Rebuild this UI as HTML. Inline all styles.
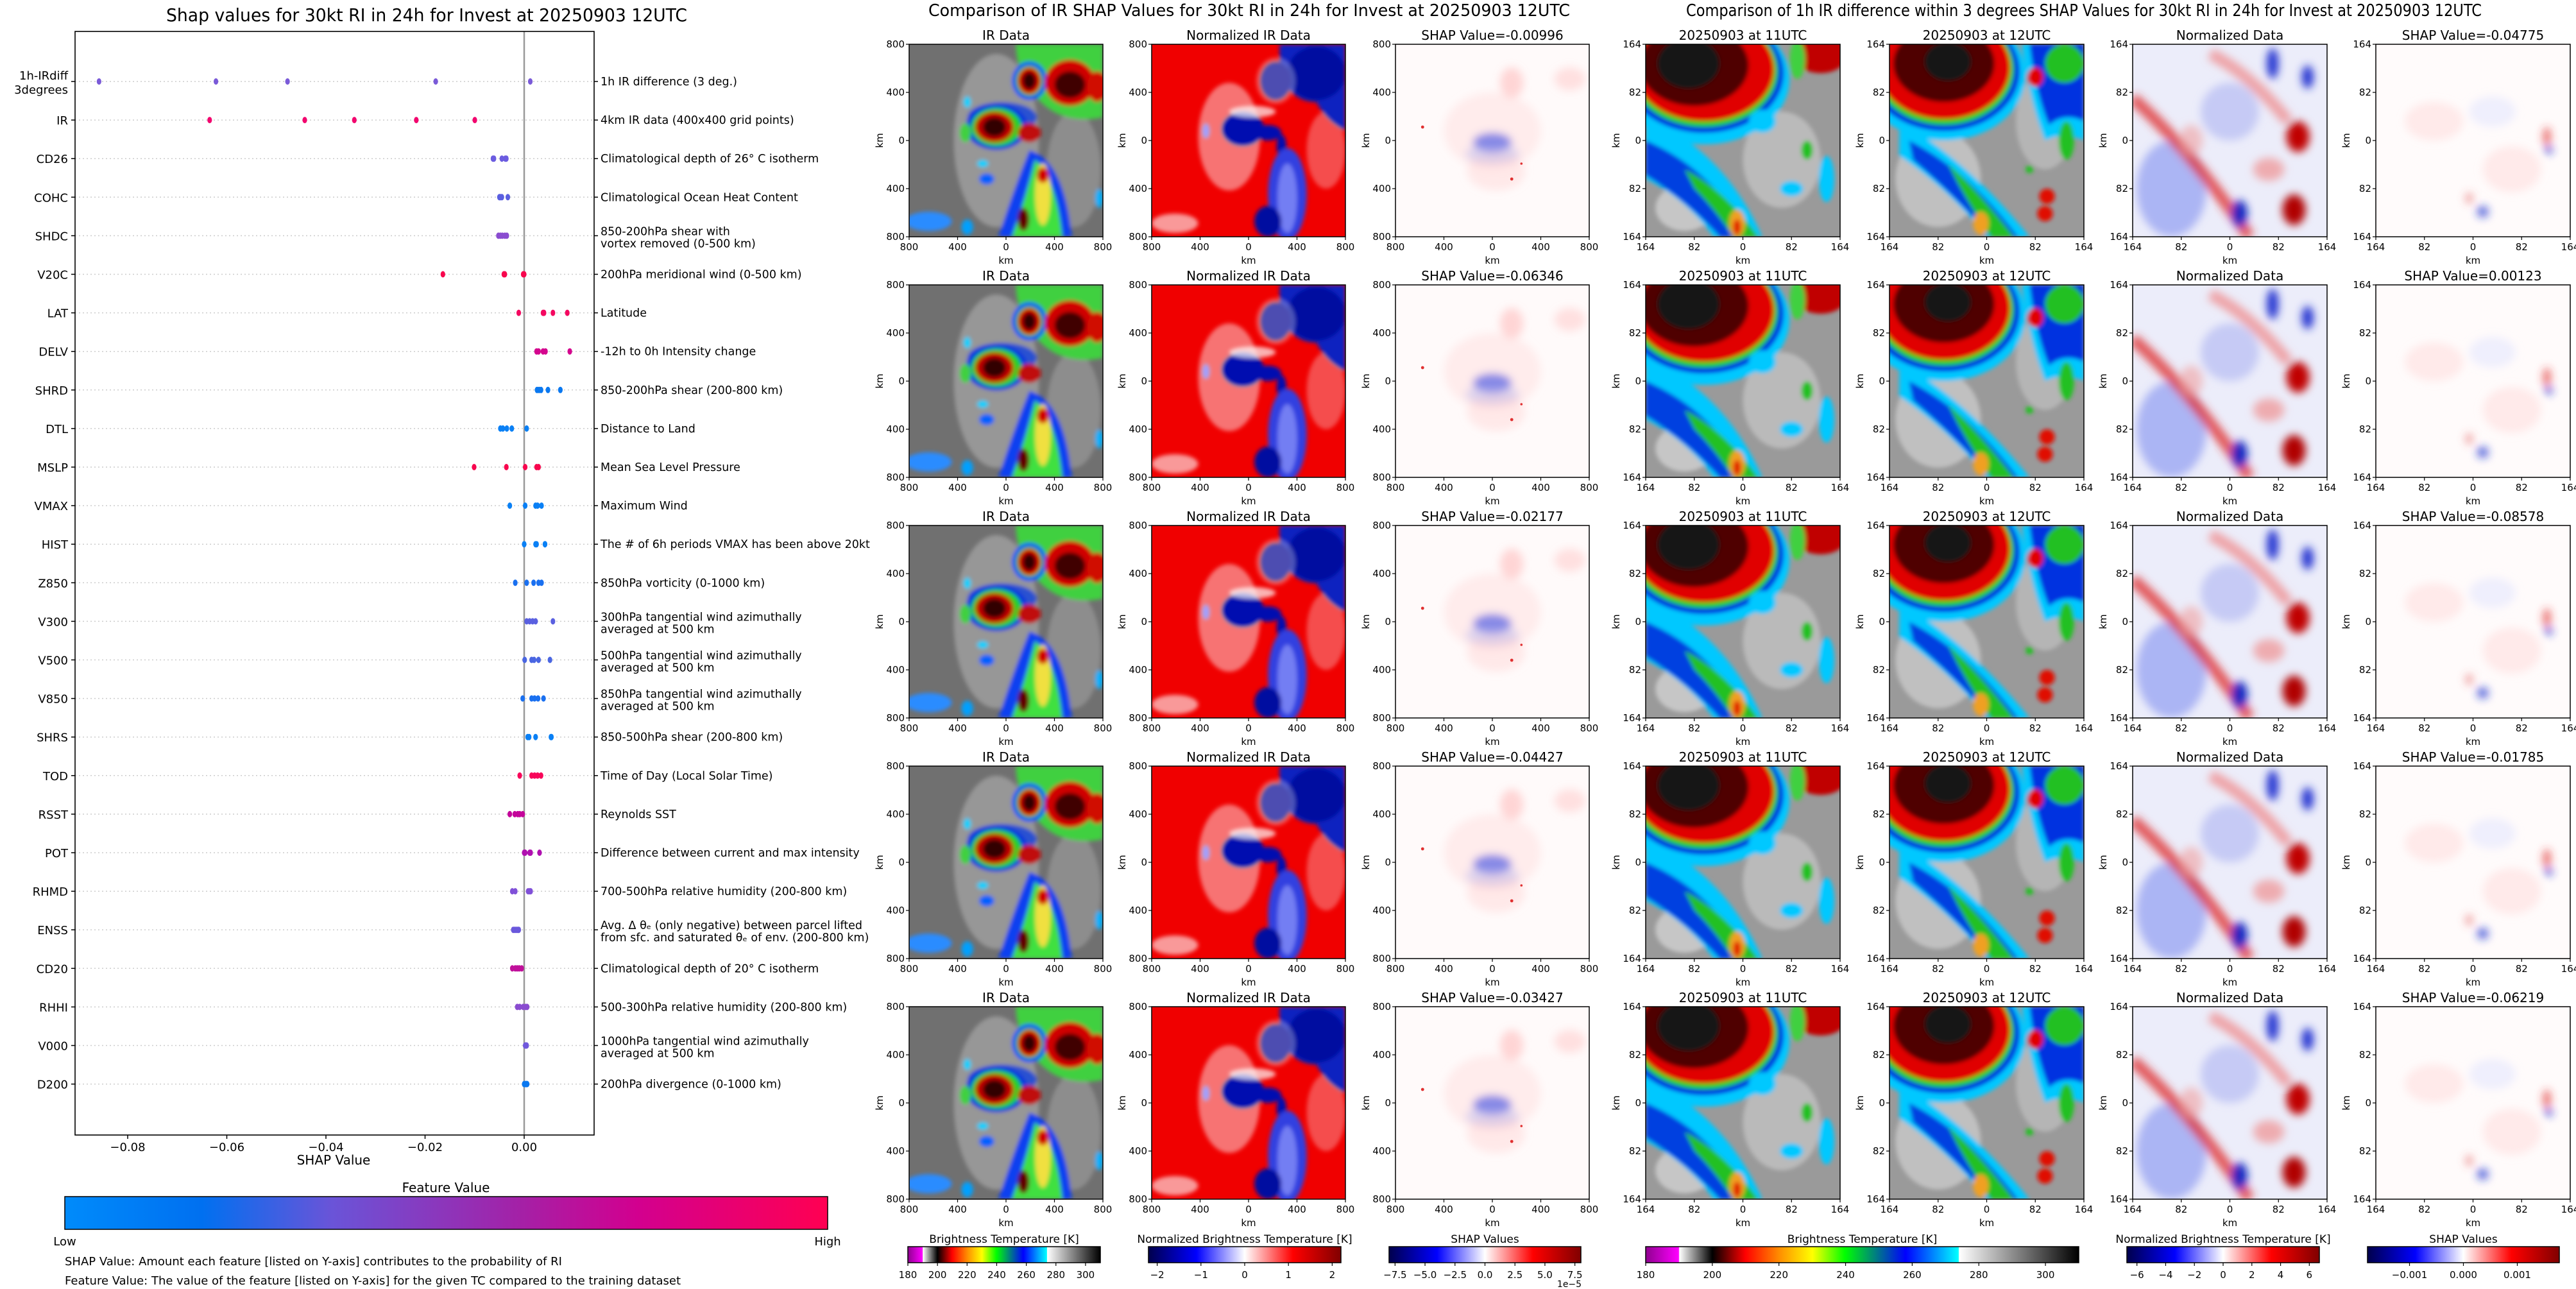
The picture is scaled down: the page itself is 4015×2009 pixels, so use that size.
<!DOCTYPE html>
<html><head><meta charset="utf-8">
<style>
html,body{margin:0;padding:0;background:#fff;}
svg{display:block;}
text{font-family:"DejaVu Sans","Liberation Sans",sans-serif;fill:#000;}
</style></head>
<body>
<svg id="root" xmlns="http://www.w3.org/2000/svg" width="4015" height="2009" viewBox="0 0 4015 2009">
<defs>
<filter id="bl" x="-20%" y="-20%" width="140%" height="140%"><feGaussianBlur stdDeviation="1.1"/></filter>
<filter id="bl2" x="-20%" y="-20%" width="140%" height="140%"><feGaussianBlur stdDeviation="2.2"/></filter>
<linearGradient id="gFeat" x1="0" x2="1" y1="0" y2="0">
<stop offset="0" stop-color="#008bfb"/><stop offset="0.18" stop-color="#0070f0"/><stop offset="0.35" stop-color="#6a54d8"/><stop offset="0.6" stop-color="#a520a6"/><stop offset="0.75" stop-color="#d2008f"/><stop offset="1" stop-color="#ff0052"/>
</linearGradient>
<linearGradient id="gIR" x1="0" x2="1" y1="0" y2="0">
<stop offset="0" stop-color="#900090"/><stop offset="0.076" stop-color="#ff00ff"/><stop offset="0.078" stop-color="#ffffff"/><stop offset="0.154" stop-color="#000000"/><stop offset="0.23" stop-color="#ff0000"/><stop offset="0.31" stop-color="#ff9000"/><stop offset="0.385" stop-color="#ffff00"/><stop offset="0.46" stop-color="#00ff00"/><stop offset="0.6" stop-color="#0000ff"/><stop offset="0.722" stop-color="#00ffff"/><stop offset="0.724" stop-color="#ffffff"/><stop offset="1" stop-color="#000000"/>
</linearGradient>
<linearGradient id="gSeis" x1="0" x2="1" y1="0" y2="0">
<stop offset="0" stop-color="#00004c"/><stop offset="0.25" stop-color="#0000ff"/><stop offset="0.5" stop-color="#ffffff"/><stop offset="0.75" stop-color="#ff0000"/><stop offset="1" stop-color="#800000"/>
</linearGradient>

<symbol id="imgA" viewBox="0 0 100 100" preserveAspectRatio="none">
<rect width="100" height="100" fill="#707070"/>
<g filter="url(#bl)">
<ellipse cx="45" cy="50" rx="22" ry="45" fill="#b0b0b0" opacity=".6"/>
<ellipse cx="85" cy="65" rx="14" ry="30" fill="#a0a0a0" opacity=".6"/>
<ellipse cx="10" cy="92" rx="12" ry="5" fill="#2a8cff"/>
<path d="M55 0 H100 V38 Q80 42 68 30 Q56 20 55 0Z" fill="#40d040"/>
<ellipse cx="62" cy="19" rx="9" ry="10" fill="#0040ff"/>
<ellipse cx="62" cy="19" rx="7" ry="8" fill="#00d000"/>
<ellipse cx="62" cy="19" rx="6" ry="7" fill="#d00000"/>
<ellipse cx="62" cy="19" rx="3.5" ry="4.5" fill="#300000"/>
<ellipse cx="83" cy="20" rx="13" ry="12" fill="#d00000"/>
<ellipse cx="83" cy="21" rx="8" ry="7" fill="#400000"/>
<ellipse cx="97" cy="22" rx="5" ry="8" fill="#d01000"/>
<ellipse cx="48" cy="38" rx="18" ry="8" fill="#1040e0" opacity=".8"/>
<ellipse cx="45" cy="43" rx="16" ry="12" fill="#0030e0"/>
<ellipse cx="45" cy="43" rx="13" ry="10" fill="#20d020"/>
<ellipse cx="44" cy="43" rx="10" ry="8" fill="#c00000"/>
<ellipse cx="44" cy="43" rx="6" ry="5" fill="#300000"/>
<ellipse cx="62" cy="46" rx="6" ry="5" fill="#c01010"/>
<ellipse cx="29" cy="46" rx="3" ry="5" fill="#40d040"/>
<path d="M62 55 Q80 60 84 100 H46 Q54 75 62 55Z" fill="#1040f0"/>
<path d="M65 60 Q76 70 79 100 H53 Q60 80 65 60Z" fill="#40e040"/>
<ellipse cx="69" cy="78" rx="4" ry="16" fill="#f0e040"/>
<ellipse cx="69" cy="68" rx="3" ry="4" fill="#d00000"/>
<ellipse cx="59" cy="91" rx="3" ry="6" fill="#600000"/>
<ellipse cx="30" cy="30" rx="2" ry="3" fill="#00d0ff"/>
<ellipse cx="38" cy="62" rx="3" ry="2" fill="#00d0ff"/>
<ellipse cx="40" cy="70" rx="4" ry="3" fill="#0060ff"/>
<ellipse cx="30" cy="95" rx="3" ry="4" fill="#00a0ff"/>
<ellipse cx="98" cy="80" rx="2" ry="5" fill="#00b0ff"/>
</g>
</symbol>

<symbol id="imgB" viewBox="0 0 100 100" preserveAspectRatio="none">
<rect width="100" height="100" fill="#f00000"/>
<g filter="url(#bl)">
<ellipse cx="40" cy="48" rx="16" ry="28" fill="#ffffff" opacity=".45"/>
<ellipse cx="90" cy="55" rx="10" ry="20" fill="#ffffff" opacity=".3"/>
<ellipse cx="12" cy="93" rx="12" ry="5" fill="#ffffff" opacity=".6"/>
<path d="M66 0 H100 V45 Q90 40 85 30 Q72 30 66 15Z" fill="#1020c0"/>
<ellipse cx="85" cy="15" rx="15" ry="14" fill="#0010a0"/>
<ellipse cx="64" cy="19" rx="8" ry="10" fill="#000090"/>
<ellipse cx="64" cy="19" rx="10" ry="12" fill="#ffffff" opacity=".3"/>
<ellipse cx="47" cy="44" rx="11" ry="9" fill="#0010b0"/>
<ellipse cx="60" cy="46" rx="7" ry="4" fill="#0010b0"/>
<ellipse cx="67" cy="53" rx="2.5" ry="6" fill="#0010b0"/>
<ellipse cx="52" cy="35" rx="12" ry="3" fill="#ffffff" opacity=".7"/>
<ellipse cx="70" cy="78" rx="10" ry="24" fill="#3040e0"/>
<ellipse cx="70" cy="80" rx="5" ry="18" fill="#a0a8ff" opacity=".6"/>
<ellipse cx="60" cy="92" rx="7" ry="8" fill="#0010a0"/>
<ellipse cx="28" cy="45" rx="2" ry="4" fill="#a0a0ff"/>
</g>
</symbol>

<symbol id="imgC" viewBox="0 0 100 100" preserveAspectRatio="none">
<rect width="100" height="100" fill="#fffafa"/>
<g filter="url(#bl2)">
<ellipse cx="60" cy="20" rx="6" ry="8" fill="#ff9090" opacity=".35"/>
<ellipse cx="90" cy="18" rx="8" ry="6" fill="#ffb0b0" opacity=".35"/>
<ellipse cx="50" cy="45" rx="25" ry="20" fill="#ffd0d0" opacity=".35"/>
<ellipse cx="52" cy="66" rx="15" ry="10" fill="#ffc0c0" opacity=".3"/>
<ellipse cx="50" cy="51" rx="10" ry="5" fill="#3040e0" opacity=".6"/>
<ellipse cx="50" cy="57" rx="14" ry="5" fill="#a0a8f0" opacity=".35"/>
</g>
<circle cx="14" cy="43" r=".8" fill="#e03030"/>
<circle cx="60" cy="70" r=".8" fill="#e03030"/>
<circle cx="65" cy="62" r=".6" fill="#e03030"/>
</symbol>

<symbol id="imgD" viewBox="0 0 100 100" preserveAspectRatio="none">
<rect width="100" height="100" fill="#9a9a9a"/>
<g filter="url(#bl)">
<ellipse cx="70" cy="60" rx="20" ry="25" fill="#c8c8c8" opacity=".7"/>
<ellipse cx="20" cy="85" rx="15" ry="12" fill="#d8d8d8" opacity=".7"/>
<path d="M0 38 Q40 55 60 100 H35 Q20 80 0 70Z" fill="#00c8ff"/>
<path d="M0 50 Q35 65 52 100 H38 Q22 82 0 68Z" fill="#0040e0"/>
<path d="M20 65 Q40 75 58 100 H45 Q35 85 25 75Z" fill="#20c020"/>
<ellipse cx="47" cy="93" rx="4" ry="7" fill="#f0a020"/>
<ellipse cx="47" cy="95" rx="2" ry="4" fill="#e02000"/>
<ellipse cx="30" cy="18" rx="44" ry="34" fill="#00c8ff"/>
<ellipse cx="30" cy="15" rx="41" ry="31" fill="#0030e0"/>
<ellipse cx="30" cy="14" rx="38" ry="29" fill="#20d020"/>
<ellipse cx="30" cy="13" rx="36" ry="27" fill="#e00000"/>
<ellipse cx="25" cy="11" rx="28" ry="21" fill="#500000"/>
<ellipse cx="22" cy="10" rx="16" ry="13" fill="#181818"/>
<ellipse cx="90" cy="5" rx="14" ry="10" fill="#c00000"/>
<ellipse cx="78" cy="8" rx="4" ry="10" fill="#40d040"/>
<ellipse cx="83" cy="55" rx="3" ry="5" fill="#20c020"/>
<ellipse cx="75" cy="75" rx="6" ry="4" fill="#00c8ff"/>
<ellipse cx="93" cy="70" rx="4" ry="12" fill="#00c8ff"/>
<ellipse cx="60" cy="40" rx="7" ry="6" fill="#00c8ff"/>
</g>
</symbol>

<symbol id="imgE" viewBox="0 0 100 100" preserveAspectRatio="none">
<rect width="100" height="100" fill="#9a9a9a"/>
<g filter="url(#bl)">
<ellipse cx="25" cy="70" rx="22" ry="25" fill="#d0d0d0" opacity=".7"/>
<ellipse cx="80" cy="40" rx="15" ry="25" fill="#c0c0c0" opacity=".7"/>
<path d="M5 40 Q40 60 72 100 H50 Q30 75 5 58Z" fill="#00c8ff"/>
<path d="M10 50 Q40 65 66 100 H52 Q35 80 12 60Z" fill="#0040e0"/>
<path d="M30 62 Q45 75 64 100 H52 Q42 85 35 72Z" fill="#20c020"/>
<ellipse cx="47" cy="93" rx="4" ry="6" fill="#f0a020"/>
<path d="M68 0 H100 V50 Q90 45 80 50 Q72 30 68 0Z" fill="#00c8ff"/>
<path d="M72 0 H100 V40 Q90 35 82 42 Q75 25 72 0Z" fill="#0030e0"/>
<ellipse cx="90" cy="10" rx="10" ry="10" fill="#20c020"/>
<ellipse cx="28" cy="16" rx="42" ry="34" fill="#00c8ff"/>
<ellipse cx="28" cy="14" rx="39" ry="31" fill="#0030e0"/>
<ellipse cx="28" cy="13" rx="36" ry="29" fill="#20d020"/>
<ellipse cx="28" cy="12" rx="34" ry="27" fill="#e00000"/>
<ellipse cx="28" cy="10" rx="26" ry="20" fill="#500000"/>
<ellipse cx="30" cy="9" rx="12" ry="10" fill="#181818"/>
<ellipse cx="75" cy="17" rx="4" ry="5" fill="#e00000"/>
<ellipse cx="91" cy="50" rx="4" ry="10" fill="#20c020"/>
<ellipse cx="81" cy="79" rx="4" ry="4" fill="#e01000"/>
<ellipse cx="80" cy="88" rx="4" ry="4" fill="#e01000"/>
<ellipse cx="72" cy="65" rx="2" ry="2" fill="#20c020"/>
</g>
</symbol>

<symbol id="imgF" viewBox="0 0 100 100" preserveAspectRatio="none">
<rect width="100" height="100" fill="#ecedfa"/>
<g filter="url(#bl2)">
<ellipse cx="20" cy="75" rx="18" ry="25" fill="#8090f0" opacity=".6"/>
<ellipse cx="50" cy="35" rx="15" ry="15" fill="#a0a8f0" opacity=".5"/>
<path d="M0 28 Q30 55 60 100" stroke="#e03030" stroke-width="6" fill="none" opacity=".8"/>
<path d="M40 5 Q60 15 80 40" stroke="#f08080" stroke-width="6" fill="none" opacity=".7"/>
<ellipse cx="85" cy="48" rx="6" ry="8" fill="#c00000"/>
<ellipse cx="83" cy="86" rx="6" ry="8" fill="#b00000"/>
<ellipse cx="55" cy="88" rx="4" ry="7" fill="#1020c0"/>
<ellipse cx="72" cy="10" rx="3" ry="8" fill="#2030d0"/>
<ellipse cx="90" cy="17" rx="3" ry="6" fill="#2030d0"/>
<ellipse cx="70" cy="65" rx="8" ry="6" fill="#f09090" opacity=".7"/>
<ellipse cx="30" cy="50" rx="6" ry="8" fill="#f0a0a0" opacity=".6"/>
</g>
</symbol>

<symbol id="imgG" viewBox="0 0 100 100" preserveAspectRatio="none">
<rect width="100" height="100" fill="#fffbfb"/>
<g filter="url(#bl2)">
<ellipse cx="30" cy="40" rx="15" ry="10" fill="#ffd0d0" opacity=".4"/>
<ellipse cx="70" cy="65" rx="15" ry="12" fill="#ffd0d0" opacity=".4"/>
<ellipse cx="60" cy="35" rx="12" ry="8" fill="#d8dcff" opacity=".4"/>
<ellipse cx="88" cy="48" rx="2" ry="5" fill="#e03030" opacity=".7"/>
<ellipse cx="89" cy="55" rx="2" ry="2" fill="#2030d0" opacity=".8"/>
<ellipse cx="55" cy="87" rx="3" ry="3" fill="#2030d0" opacity=".7"/>
<ellipse cx="48" cy="80" rx="2" ry="3" fill="#e05050" opacity=".5"/>
</g>
</symbol>
</defs>
</svg>

<script>
// ---------------- data ----------------
const featureCodes = ["1h-IRdiff|3degrees","IR","CD26","COHC","SHDC","V20C","LAT","DELV","SHRD","DTL","MSLP","VMAX","HIST","Z850","V300","V500","V850","SHRS","TOD","RSST","POT","RHMD","ENSS","CD20","RHHI","V000","D200"];
const featureDescs = ["1h IR difference (3 deg.)","4km IR data (400x400 grid points)","Climatological depth of 26° C isotherm","Climatological Ocean Heat Content","850-200hPa shear with|vortex removed (0-500 km)","200hPa meridional wind (0-500 km)","Latitude","-12h to 0h Intensity change","850-200hPa shear (200-800 km)","Distance to Land","Mean Sea Level Pressure","Maximum Wind","The # of 6h periods VMAX has been above 20kt","850hPa vorticity (0-1000 km)","300hPa tangential wind azimuthally|averaged at 500 km","500hPa tangential wind azimuthally|averaged at 500 km","850hPa tangential wind azimuthally|averaged at 500 km","850-500hPa shear (200-800 km)","Time of Day (Local Solar Time)","Reynolds SST","Difference between current and max intensity","700-500hPa relative humidity (200-800 km)","Avg. Δ θₑ (only negative) between parcel lifted|from sfc. and saturated θₑ of env. (200-800 km)","Climatological depth of 20° C isotherm","500-300hPa relative humidity (200-800 km)","1000hPa tangential wind azimuthally|averaged at 500 km","200hPa divergence (0-1000 km)"];
const shapIRdiff = [-0.04775, 0.00123, -0.08578, -0.01785, -0.06219];
const shapIR = [-0.00996, -0.06346, -0.02177, -0.04427, -0.03427];
const shapOther = [
 [-0.0063,-0.0061,-0.0045,-0.0038,-0.0036],
 [-0.0050,-0.0049,-0.0047,-0.0045,-0.0033],
 [-0.0052,-0.0048,-0.0044,-0.0039,-0.0035],
 [-0.0164,-0.0041,-0.0039,-0.0002,0.0000],
 [-0.0011,0.0038,0.0040,0.0058,0.0087],
 [0.0025,0.0029,0.0038,0.0043,0.0092],
 [0.0026,0.0030,0.0034,0.0048,0.0073],
 [-0.0048,-0.0043,-0.0035,-0.0025,0.0005],
 [-0.0101,-0.0036,0.0002,0.0025,0.0029],
 [-0.0029,0.0002,0.0023,0.0027,0.0035],
 [0.0000,0.0023,0.0025,0.0042,0.0042],
 [-0.0018,0.0005,0.0019,0.0029,0.0035],
 [0.0005,0.0011,0.0017,0.0023,0.0058],
 [0.0001,0.0015,0.0020,0.0029,0.0052],
 [-0.0003,0.0015,0.0021,0.0028,0.0039],
 [0.0007,0.0010,0.0023,0.0055,0.0054],
 [-0.0009,0.0015,0.0021,0.0027,0.0034],
 [-0.0029,-0.0019,-0.0013,-0.0009,-0.0003],
 [0.0000,0.0002,0.0011,0.0013,0.0031],
 [-0.0024,-0.0018,0.0008,0.0011,0.0013],
 [-0.0022,-0.0019,-0.0016,-0.0013,-0.0011],
 [-0.0024,-0.0018,-0.0014,-0.0010,-0.0005],
 [-0.0014,-0.0009,-0.0002,0.0003,0.0006],
 [0.0002,0.0003,0.0004,0.0004,0.0005],
 [0.0000,0.0002,0.0004,0.0005,0.0006]
];
const dotColors = ["#7a5ad8","#f2066e","#6b5ce0","#5a5fe0","#8a4cd0","#f8064e","#f40860","#d4058e","#0a78f0","#0a80f5","#f8064e","#0a80f5","#0a80f5","#1a70f0","#5a60e0","#4a66e2","#1a70f0","#0a80f5","#f8065a","#c4059a","#b010b0","#8050d8","#6a58dc","#c0109a","#8a4cd0","#7058dc","#0a78f0"];
const xTicks = [-0.08,-0.06,-0.04,-0.02,0.00];
const irTickLabels = ["800","400","0","400","800"];
const dTickLabels = ["164","82","0","82","164"];
const irdiffTitles = shapIRdiff.map(v=>"SHAP Value="+v.toFixed(5));
const irTitles = shapIR.map(v=>"SHAP Value="+v.toFixed(5));
const cbIRTicks = [180,200,220,240,260,280,300];
const cbNormTicks = [-2,-1,0,1,2];
const cbShapTicks = [-7.5,-5.0,-2.5,0.0,2.5,5.0,7.5];
const cbNorm2Ticks = [-6,-4,-2,0,2,4,6];
const cbShap2Ticks = [-0.001,0.000,0.001];

// ---------------- helpers ----------------
const NS="http://www.w3.org/2000/svg";
const root=document.getElementById('root');
function el(tag,attrs,parent){const e=document.createElementNS(NS,tag);for(const k in attrs)e.setAttribute(k,attrs[k]);(parent||root).appendChild(e);return e;}
function txt(s,x,y,size,anchor,parent,extra){const t=el('text',Object.assign({x:x,y:y,'font-size':size,'text-anchor':anchor||'start'},extra||{}),parent);t.textContent=s;return t;}
function fmt(v){return (v<0?"\u2212":"")+Math.abs(v).toFixed(2);}

// ---------------- left SHAP summary ----------------
const L=117,R=926,T=49,B=1769;
const X0=817, PX=7725;
function xScale(v){return X0+v*PX;}
function rowY(i){return 127+i*60.1;}
const allShap=[shapIRdiff,shapIR].concat(shapOther);

const sg=el('g',{});


const st=txt("Shap values for 30kt RI in 24h for Invest at 20250903 12UTC",665,33,28,'middle',sg,{textLength:812,lengthAdjust:'spacingAndGlyphs'});



featureCodes.forEach((code,i)=>{
  const y=rowY(i);
  const g=el('line',{x1:L,x2:R,y1:y,y2:y,stroke:'#cccccc','stroke-width':1.5,'stroke-dasharray':'2,4'},sg);
  
  
  el('line',{x1:L-6,x2:L,y1:y,y2:y,stroke:'#000','stroke-width':1.5},sg);
  el('line',{x1:R,x2:R+6,y1:y,y2:y,stroke:'#000','stroke-width':1.5},sg);
  const parts=code.split('|');
  parts.forEach((p,k)=>{
    const t=txt(p,106,y+7+(parts.length>1?(k===0?-10:12):0),18,'end',sg);
    
    
  });
  const dl=featureDescs[i].split('|');
  dl.forEach((p,k)=>{
    const yy = dl.length>1 ? y+(k===0?-1:18) : y+6;
    const t=txt(p,936,yy,17.5,'start',sg);
    
    
  });
});
const zl=el('line',{x1:X0,x2:X0,y1:T,y2:B,stroke:'#999999','stroke-width':2.5},sg);


allShap.forEach((vals,i)=>{
  vals.forEach(v=>{
    const c=el('ellipse',{cx:xScale(v),cy:rowY(i),rx:3.6,ry:5,fill:dotColors[i]},sg);
    
    
  });
});
const fr=el('rect',{x:L,y:T,width:R-L,height:B-T,fill:'none',stroke:'#000','stroke-width':1.6},sg);


xTicks.forEach(v=>{
  const x=xScale(v);
  el('line',{x1:x,x2:x,y1:B,y2:B+6,stroke:'#000','stroke-width':1.5},sg);
  const t=txt(fmt(v),x,B+25,18,'middle',sg);
  
  
});
const xt=txt("SHAP Value",520,1815,20,'middle',sg);


const ft=txt("Feature Value",695,1858,20,'middle',sg);


const fcb=el('rect',{x:101,y:1865,width:1189,height:51,fill:'url(#gFeat)',stroke:'#000','stroke-width':1.5},sg);


txt("Low",101,1941,18,'middle',sg);
txt("High",1290,1941,18,'middle',sg);
const n1=txt("SHAP Value: Amount each feature [listed on Y-axis] contributes to the probability of RI",101,1972,18,'start',sg);


const n2=txt("Feature Value: The value of the feature [listed on Y-axis] for the given TC compared to the training dataset",101,2002,18,'start',sg);



// ---------------- image panels ----------------
const rowsY=[69,444,819,1194,1569];
function panel(x,y,w,h,sym,title,ticks,name){
  const g=el('g',{});
  
  
  el('use',{href:'#'+sym,x:x,y:y,width:w,height:h},g);
  el('rect',{x:x,y:y,width:w,height:h,fill:'none',stroke:'#000','stroke-width':1.5},g);
  const tt=txt(title,x+w/2,y-7,20,'middle',g);
  
  
  ticks.forEach((lab,k)=>{
    const yy=y+k*h/4, xx=x+k*w/4;
    el('line',{x1:x-5,x2:x,y1:yy,y2:yy,stroke:'#000','stroke-width':1.2},g);
    txt(lab,x-7,yy+5,15,'end',g);
    el('line',{x1:xx,x2:xx,y1:y+h,y2:y+h+5,stroke:'#000','stroke-width':1.2},g);
    txt(lab,xx,y+h+21,15,'middle',g);
  });
  txt("km",x+w/2,y+h+42,15,'middle',g);
  txt("km",0,0,15,'middle',g,{transform:`translate(${x-41},${y+h/2}) rotate(-90)`});
}
const midCols=[1417,1795,2175];
rowsY.forEach((y,r)=>{
  panel(midCols[0],y,302,300,'imgA',"IR Data",irTickLabels,'ir-data-panel');
  panel(midCols[1],y,302,300,'imgB',"Normalized IR Data",irTickLabels,'normalized-ir-panel');
  panel(midCols[2],y,302,300,'imgC',irTitles[r],irTickLabels,'ir-shap-panel');
});
const rCols=[2565,2945,3324,3703];
rowsY.forEach((y,r)=>{
  panel(rCols[0],y,303,300,'imgD',"20250903 at 11UTC",dTickLabels,'ir-11utc-panel');
  panel(rCols[1],y,303,300,'imgE',"20250903 at 12UTC",dTickLabels,'ir-12utc-panel');
  panel(rCols[2],y,303,300,'imgF',"Normalized Data",dTickLabels,'normalized-diff-panel');
  panel(rCols[3],y,303,300,'imgG',irdiffTitles[r],dTickLabels,'irdiff-shap-panel');
});
const t1=txt("Comparison of IR SHAP Values for 30kt RI in 24h for Invest at 20250903 12UTC",1947,25,26,'middle',root,{textLength:1000,lengthAdjust:'spacingAndGlyphs'});


const t2=txt("Comparison of 1h IR difference within 3 degrees SHAP Values for 30kt RI in 24h for Invest at 20250903 12UTC",3248,25,26,'middle',root,{textLength:1240,lengthAdjust:'spacingAndGlyphs'});



// ---------------- colorbars ----------------
function cbar(x,w,grad,title,ticks,vmin,vmax,labfmt,name){
  const g=el('g',{});
  
  
  txt(title,x+w/2,1937,17,'middle',g);
  el('rect',{x:x,y:1943,width:w,height:25,fill:grad,stroke:'#000','stroke-width':1.5},g);
  ticks.forEach(v=>{
    const xx=x+(v-vmin)/(vmax-vmin)*w;
    el('line',{x1:xx,x2:xx,y1:1968,y2:1973,stroke:'#000','stroke-width':1.2},g);
    txt(labfmt(v),xx,1992,15,'middle',g);
  });
}
const m=v=>(v<0?"\u2212":"")+Math.abs(v);
cbar(1415,300,'url(#gIR)',"Brightness Temperature [K]",cbIRTicks,180,310,v=>""+v,'ir-colorbar');
cbar(1790,300,'url(#gSeis)',"Normalized Brightness Temperature [K]",cbNormTicks,-2.2,2.2,m,'normalized-ir-colorbar');
cbar(2165,299,'url(#gSeis)',"SHAP Values",cbShapTicks,-8,8,v=>(v<0?"\u2212":"")+Math.abs(v).toFixed(1),'ir-shap-colorbar');
txt("1e\u22125",2446,2006,14,'middle');
cbar(2565,675,'url(#gIR)',"Brightness Temperature [K]",cbIRTicks,180,310,v=>""+v,'irdiff-bt-colorbar');
cbar(3315,300,'url(#gSeis)',"Normalized Brightness Temperature [K]",cbNorm2Ticks,-6.7,6.7,m,'irdiff-normalized-colorbar');
cbar(3690,299,'url(#gSeis)',"SHAP Values",cbShap2Ticks,-0.00178,0.00178,v=>(v<0?"\u2212":"")+Math.abs(v).toFixed(3),'irdiff-shap-colorbar');
</script>
</body></html>
